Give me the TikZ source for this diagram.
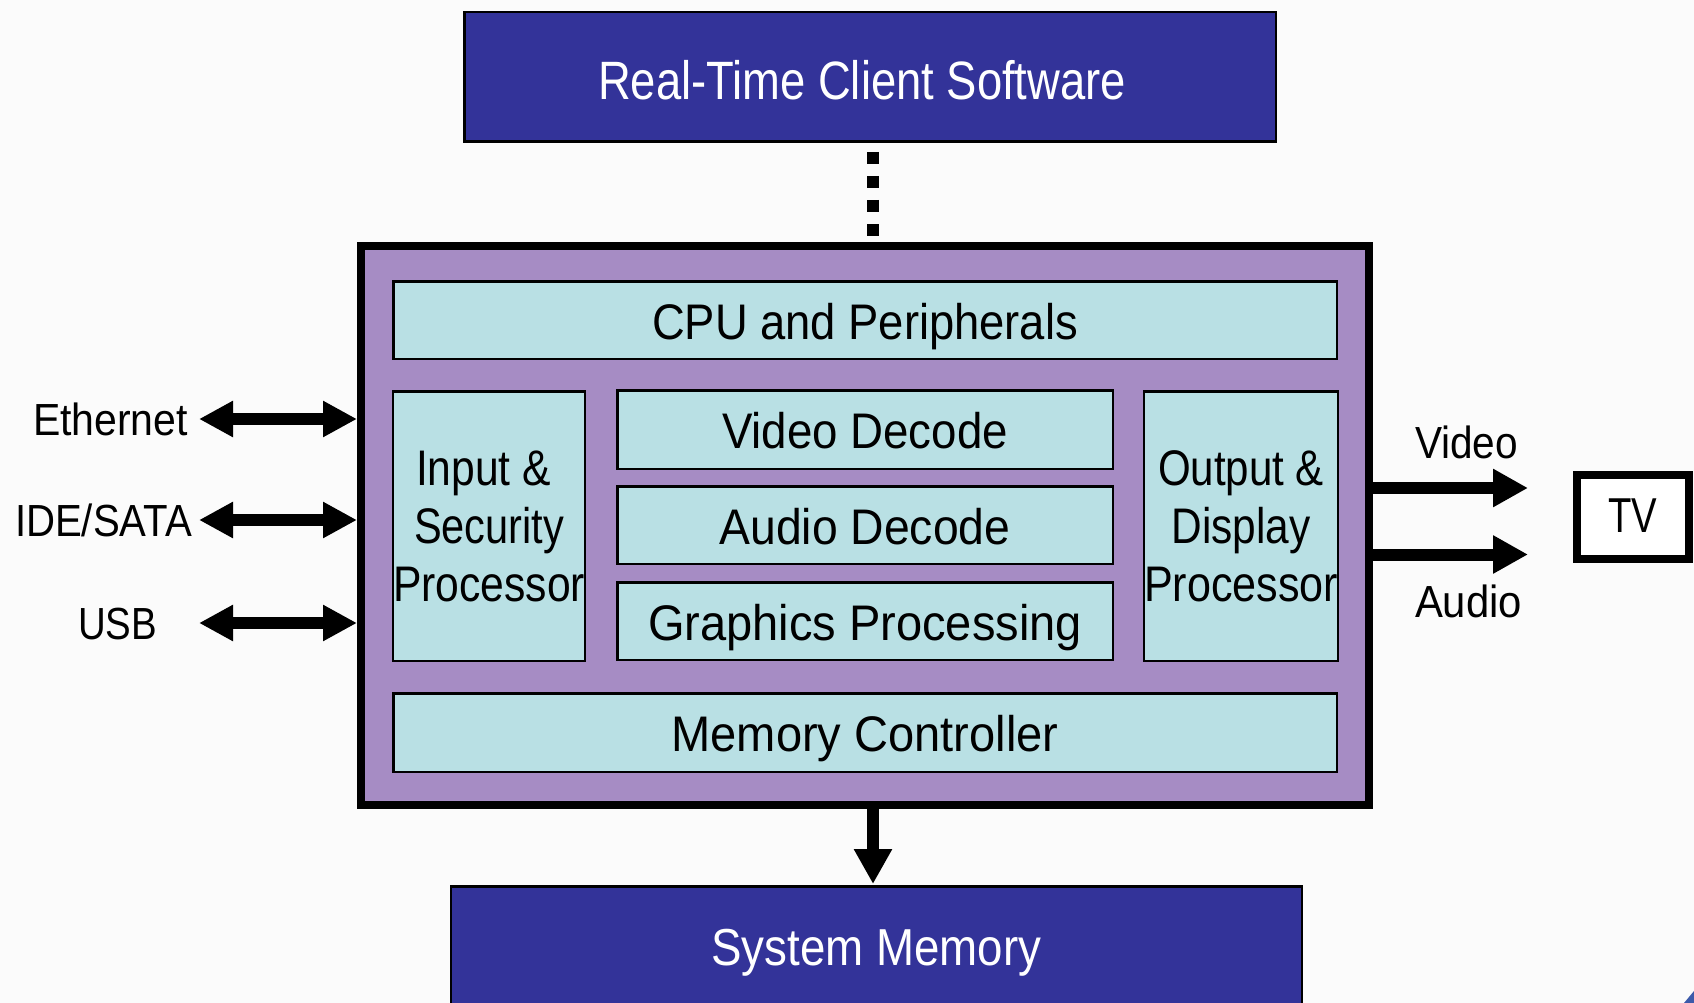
\documentclass[tikz,border=0pt]{standalone}
\usepackage{fontspec}
\setmainfont[FakeStretch=0.85]{Liberation Sans}
\usepackage{graphicx}
\usetikzlibrary{arrows.meta}
\definecolor{bgc}{RGB}{251,251,251}
\definecolor{dblue}{RGB}{51,51,153}
\definecolor{purp}{RGB}{166,140,196}
\definecolor{cyanb}{RGB}{185,224,228}
\definecolor{sliver}{RGB}{60,90,170}
\newsavebox\myfitbox
\newcommand\fitw[2]{\sbox\myfitbox{#2}\pgfmathsetmacro\myratio{#1/\the\wd\myfitbox}\scalebox{\myratio}[1]{\usebox\myfitbox}}
\tikzset{
  inbox/.style={draw=black, line width=2.5pt, fill=cyanb, inner sep=0pt,
    font=\fontsize{50}{58}\selectfont, text height=38pt, text depth=0pt},
  mbox/.style={draw=black, line width=2.5pt, fill=cyanb, inner sep=0pt,
    font=\fontsize{50}{58}\selectfont, align=center},
  bluebox/.style={draw=black, line width=2.5pt, fill=dblue, text=white, inner sep=0pt},
  lab/.style={inner sep=0pt, font=\fontsize{45}{54}\selectfont, text height=32pt, text depth=0pt},
  bigarr/.style={line width=12pt, -{Triangle[length=35pt,width=36pt]}},
  dblarr/.style={line width=12pt, {Triangle[length=34pt,width=34pt]}-{Triangle[length=34pt,width=34pt]}},
  dotline/.style={line width=12pt, dash pattern=on 12pt off 12pt}
}
\begin{document}
\begin{tikzpicture}[x=1pt,y=-1pt]
\clip (0,0) rectangle (1694,1003);
\fill[bgc] (0,0) rectangle (1694,1003);

% top software box
\node[bluebox, minimum width=811.5pt, minimum height=129.5pt,
  font=\fontsize{54}{62}\selectfont, text height=45pt, text depth=0pt]
  (top) at (870,77) {\fitw{528}{Real-Time Client Software}\hspace*{16pt}};

% main chip box
\node[draw=black, line width=8pt, fill=purp, minimum width=1008pt,
  minimum height=559.5pt, inner sep=0pt] (main) at (865,525.25) {};

% inner blocks
\node[inbox, minimum width=943.5pt, minimum height=77.5pt] (cpu) at (865,320) {\fitw{426}{CPU and Peripherals}};
\node[inbox, minimum width=495.5pt, minimum height=78.5pt] (vid) at (865,429.5) {\fitw{286}{Video Decode}};
\node[inbox, minimum width=495.5pt, minimum height=77.5pt] (aud) at (865,525) {\fitw{291}{Audio Decode}};
\node[inbox, minimum width=495.5pt, minimum height=77.5pt] (gfx) at (865,621) {\fitw{434}{Graphics Processing}};
\node[inbox, minimum width=943.5pt, minimum height=78.5pt] (memc) at (865,732.5) {\fitw{387}{Memory Controller}};
\node[mbox, minimum width=191.5pt, minimum height=269.5pt] (inp) at (489,526)
  {\fitw{135}{Input \&}\hspace*{11pt}\\ \fitw{150}{Security}\hspace*{11pt}\\ \fitw{192}{Processor}};
\node[mbox, minimum width=191.5pt, minimum height=269.5pt] (outp) at (1241,526)
  {\fitw{166}{Output \&}\\ \fitw{139}{Display}\\ \fitw{194}{Processor}};

% system memory
\node[bluebox, minimum width=851pt, minimum height=142.5pt,
  font=\fontsize{52}{60}\selectfont, text height=34pt, text depth=19pt]
  (mem) at (876.25,957.5) {\fitw{330}{System Memory}};

% TV
\node[draw=black, line width=8pt, fill=white, minimum width=112pt, minimum height=84pt,
  inner sep=0pt, font=\fontsize{49}{58}\selectfont, text height=30pt, text depth=0pt]
  (tv) at (1633,517) {\fitw{49}{TV}};

% side labels
\node[lab] (eth) at (110.5,419) {\fitw{155}{Ethernet}};
\node[lab] (ide) at (103.5,520) {\fitw{177}{IDE/SATA}};
\node[lab] (usb) at (117.5,623) {\fitw{79}{USB}};
\node[lab] (vidlab) at (1466.5,442) {\fitw{103}{Video}};
\node[lab] (audlab) at (1468.5,601) {\fitw{107}{Audio}};

% helper coordinates
\coordinate (dx) at (873,0);
\coordinate (lx) at (199,0);
\coordinate (vtip) at (1528,488);
\coordinate (atip) at (1528,554.5);
\path (top.south -| dx) coordinate (d1);
\path (main.north -| dx) coordinate (d2);
\path (main.south -| dx) coordinate (b1);
\path (mem.north -| dx) coordinate (b2);

% connectors
\draw[dotline] ([yshift=-9pt]d1) -- ([yshift=6pt]d2);
\draw[bigarr] (b1) -- ([yshift=1pt]b2);
\draw[dblarr] (eth -| lx) -- (eth -| main.west);
\draw[dblarr] (ide -| lx) -- (ide -| main.west);
\draw[dblarr] (usb -| lx) -- (usb -| main.west);
\draw[bigarr] (vtip -| main.east) -- (vtip);
\draw[bigarr] (atip -| main.east) -- (atip);

% cut-off fragment at bottom right corner
\fill[sliver] (1684,1003) -- (1694,991) -- (1694,1003) -- cycle;
\end{tikzpicture}
\end{document}
